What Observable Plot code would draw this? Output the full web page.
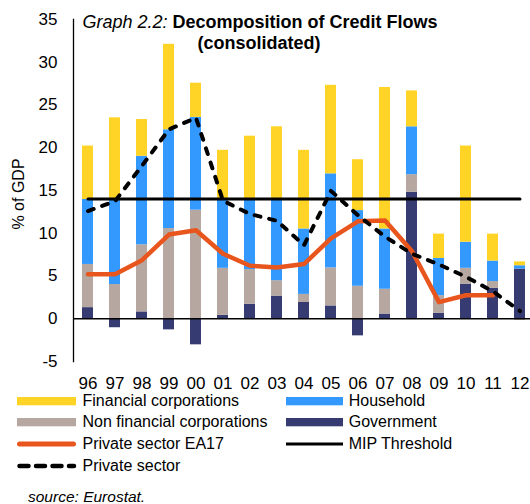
<!DOCTYPE html>
<html>
<head>
<meta charset="utf-8">
<script src="https://cdn.jsdelivr.net/npm/d3@7"></script>
<script src="https://cdn.jsdelivr.net/npm/@observablehq/plot@0.6"></script>
<style>
  html, body { margin: 0; padding: 0; background: white; overflow: hidden; }
  #wrap { position: relative; width: 530px; font-family: "Liberation Sans", Arial, sans-serif; color: #000; }
  #legend { position: relative; width: 530px; height: 112px; font-size: 16px; }
  .item { position: absolute; height: 20px; line-height: 20px; white-space: nowrap; }
  .sw { position: absolute; }
  #source { position: absolute; left: 28px; top: 99px; font-style: italic; font-size: 15.5px; line-height: 12px; height: 12px; white-space: nowrap; }
</style>
</head>
<body>
<div id="wrap"></div>
<script>
// ---- data ----
const years = ["96","97","98","99","00","01","02","03","04","05","06","07","08","09","10","11","12"];
const government = [1.3, -1.05, 0.8, -1.3, -3.05, 0.4, 1.7, 2.65, 1.9, 1.5, -2.0, 0.55, 14.8, 0.65, 4.05, 3.55, 5.8];
const nonFinancial = [5.05, 4.0, 7.85, 10.55, 12.7, 5.5, 4.05, 1.8, 0.95, 4.45, 3.8, 2.9, 2.05, 2.05, 1.85, 0.8, -0.2];
const household = [7.6, 9.95, 10.35, 11.55, 10.85, 7.95, 8.1, 9.4, 7.65, 11.0, 8.85, 7.05, 5.6, 4.35, 3.05, 2.4, 0.4];
const financial = [6.25, 9.55, 4.3, 10.0, 4.0, 5.85, 7.5, 8.6, 9.2, 10.35, 5.95, 16.55, 4.2, 2.85, 11.25, 3.15, 0.45];
const privateEA17 = [5.2, 5.2, 6.85, 9.85, 10.35, 7.6, 6.2, 6.0, 6.4, 9.4, 11.4, 11.5, 7.9, 1.95, 2.75, 2.75, null];
const privateSector = [12.6, 13.75, 17.9, 22.15, 23.5, 13.8, 12.25, 11.45, 8.6, 14.95, 12.1, 9.6, 7.6, 6.35, 4.9, 3.2, 0.9];
const mipThreshold = 14;
const yTicks = [-5, 0, 5, 10, 15, 20, 25, 30, 35];
const seriesNames = ["Government", "Non financial corporations", "Household", "Financial corporations"];
const seriesColors = ["#363B72", "#B6A8A0", "#3399FF", "#FFD426"];
const ea17Color = "#E8561E";

// ---- tables built from the arrays ----
const seriesValues = [government, nonFinancial, household, financial];
const barData = years.flatMap((yr, i) =>
  seriesNames.map((s, k) => ({year: yr, series: s, value: seriesValues[k][i]})));
const ea17Data = years.map((yr, i) => ({year: yr, v: privateEA17[i]})).filter(d => d.v != null);
const privData = years.map((yr, i) => ({year: yr, v: privateSector[i]}));
const mipData = years.map(yr => ({year: yr, v: mipThreshold}));

const chart = Plot.plot({
  width: 530,
  height: 392,
  marginLeft: 73,
  marginRight: 0,
  marginTop: 19,
  marginBottom: 31,
  style: {fontFamily: "'Liberation Sans', Arial, sans-serif", fontSize: "17px", color: "#000", background: "white"},
  x: {type: "band", domain: years, range: [73.5, 533.7], paddingInner: 0.6, paddingOuter: 0.3, align: 0.5},
  y: {domain: [-5, 35]},
  color: {domain: seriesNames, range: seriesColors},
  marks: [
    Plot.barY(barData, {x: "year", y: "value", fill: "series"}),
    Plot.ruleY([0], {stroke: "#000", strokeWidth: 1.3}),
    Plot.frame({anchor: "left", stroke: "#000", strokeWidth: 1.3}),
    Plot.lineY(mipData, {x: "year", y: "v", stroke: "#000", strokeWidth: 3}),
    Plot.lineY(ea17Data, {x: "year", y: "v", stroke: ea17Color, strokeWidth: 4.5, strokeLinejoin: "round"}),
    Plot.lineY(privData, {x: "year", y: "v", stroke: "#000", strokeWidth: 4, strokeDasharray: "6,9", strokeLinecap: "round"}),
    Plot.axisY({ticks: yTicks, tickSize: 0, tickPadding: 16, tickFormat: d => String(d), label: null}),
    Plot.axisX({tickSize: 0, tickPadding: 15, label: null})
  ]
});

const svg = d3.select(chart);
// y-axis title
svg.append("text")
  .attr("transform", "translate(18.5,194) rotate(-90)")
  .attr("text-anchor", "middle")
  .attr("dominant-baseline", "central")
  .attr("font-size", 16)
  .attr("fill", "#000")
  .text("% of GDP");
// chart title
const t1 = svg.append("text").attr("x", 260).attr("y", 28).attr("text-anchor", "middle").attr("font-size", 18).attr("fill", "#000");
t1.append("tspan").attr("font-style", "italic").text("Graph 2.2: ");
t1.append("tspan").attr("font-weight", "bold").text("Decomposition of Credit Flows");
svg.append("text").attr("x", 259).attr("y", 49).attr("text-anchor", "middle").attr("font-size", 18).attr("font-weight", "bold").attr("fill", "#000").text("(consolidated)");

const wrap = document.getElementById("wrap");
wrap.appendChild(chart);

// ---- legend ----
const legendItems = [
  {label: "Financial corporations", kind: "rect", color: seriesColors[3], col: 0, row: 0},
  {label: "Household", kind: "rect", color: seriesColors[2], col: 1, row: 0},
  {label: "Non financial corporations", kind: "rect", color: seriesColors[1], col: 0, row: 1},
  {label: "Government", kind: "rect", color: seriesColors[0], col: 1, row: 1},
  {label: "Private sector EA17", kind: "orange", color: ea17Color, col: 0, row: 2},
  {label: "MIP Threshold", kind: "solid", color: "#000", col: 1, row: 2},
  {label: "Private sector", kind: "dash", color: "#000", col: 0, row: 3}
];
const rowCenters = [9, 30, 52, 74];
const cols = [{sx: 17, sw: 59, tx: 82.5}, {sx: 286, sw: 57, tx: 348.7}];
const legend = document.createElement("div");
legend.id = "legend";
for (const it of legendItems) {
  const c = cols[it.col], cy = rowCenters[it.row];
  const sw = document.createElementNS("http://www.w3.org/2000/svg", "svg");
  sw.setAttribute("class", "sw");
  sw.setAttribute("width", c.sw + 4);
  sw.setAttribute("height", 12);
  sw.style.left = (c.sx - 2) + "px";
  sw.style.top = (cy - 6) + "px";
  let inner = "";
  if (it.kind === "rect") inner = `<rect x="2" y="2" width="${c.sw}" height="8.3" fill="${it.color}"/>`;
  else if (it.kind === "orange") inner = `<line x1="4.5" x2="${c.sw - 0.5}" y1="6" y2="6" stroke="${it.color}" stroke-width="5" stroke-linecap="round"/>`;
  else if (it.kind === "solid") inner = `<line x1="2" x2="${c.sw + 2}" y1="6" y2="6" stroke="#000" stroke-width="3"/>`;
  else inner = `<line x1="4.5" x2="${c.sw}" y1="6" y2="6" stroke="#000" stroke-width="4.5" stroke-dasharray="9,7.5" stroke-linecap="round"/>`;
  sw.innerHTML = inner;
  legend.appendChild(sw);
  const tx = document.createElement("div");
  tx.className = "item";
  tx.style.left = c.tx + "px";
  tx.style.top = (cy - 10) + "px";
  tx.textContent = it.label;
  legend.appendChild(tx);
}
const src = document.createElement("div");
src.id = "source";
src.textContent = "source: Eurostat.";
legend.appendChild(src);
wrap.appendChild(legend);
</script>
</body>
</html>
